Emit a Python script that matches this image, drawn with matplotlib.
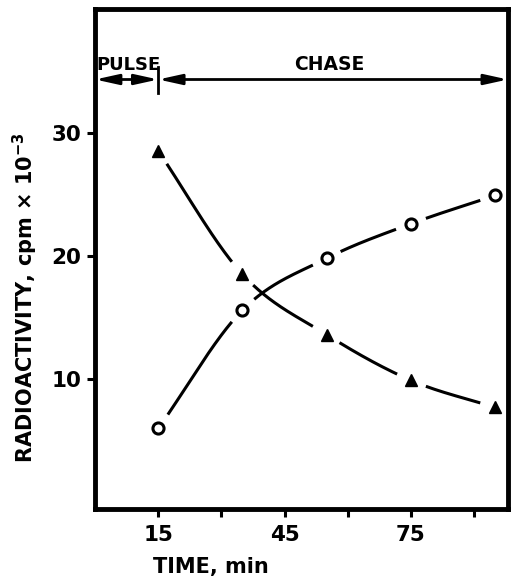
import numpy as np
import matplotlib
matplotlib.use("Agg")
import matplotlib.pyplot as plt
from matplotlib.patches import FancyArrowPatch

plt.rcParams['font.family'] = ['DejaVu Sans']
plt.rcParams['font.weight'] = 'bold'
plt.rcParams['mathtext.fontset'] = 'custom'
plt.rcParams['mathtext.rm'] = 'DejaVu Sans:bold'
plt.rcParams['mathtext.default'] = 'rm'

# data
time_min = [15, 35, 55, 75, 95]
triangles = [28.5, 18.5, 13.6, 9.9, 7.7]
circles = [6.0, 15.6, 19.8, 22.6, 24.9]

x_ticks = [15, 30, 45, 60, 75, 90]
x_ticklabels = ['15', '', '45', '', '75', '']
y_ticks = [10, 20, 30]

pulse_end = 15


def smooth(x, y, n=80):
    # catmull-rom curve through the points, for the hand drawn look
    x = np.asarray(x, float)
    y = np.asarray(y, float)
    px = np.concatenate([[2 * x[0] - x[1]], x, [2 * x[-1] - x[-2]]])
    py = np.concatenate([[2 * y[0] - y[1]], y, [2 * y[-1] - y[-2]]])
    xs, ys = [], []
    t = np.linspace(0, 1, n)
    for i in range(1, len(px) - 2):
        for p, out in ((px, xs), (py, ys)):
            p0, p1, p2, p3 = p[i - 1], p[i], p[i + 1], p[i + 2]
            out.append(0.5 * ((2 * p1) + (-p0 + p2) * t
                              + (2 * p0 - 5 * p1 + 4 * p2 - p3) * t ** 2
                              + (-p0 + 3 * p1 - 3 * p2 + p3) * t ** 3))
    return np.concatenate(xs), np.concatenate(ys)


fig = plt.figure(figsize=(5.14, 5.76), dpi=100)
ax = fig.add_axes([0.185, 0.117, 0.803, 0.867])
ax.set_xlim(0, 98)
ax.set_ylim(-0.5, 40)

# gap around every marker, in pixels
gap = 15
marks = ax.transData.transform(np.column_stack(
    [time_min + time_min, triangles + circles]))
for yy in (triangles, circles):
    sx, sy = smooth(time_min, yy)
    pts = ax.transData.transform(np.column_stack([sx, sy]))
    d = np.min(np.hypot(pts[:, None, 0] - marks[None, :, 0],
                        pts[:, None, 1] - marks[None, :, 1]), axis=1)
    sy = np.where(d < gap, np.nan, sy)
    ax.plot(sx, sy, color='black', lw=2.2, solid_capstyle='butt', zorder=2)

ax.plot(time_min, triangles, ls='none', marker='^', ms=9, color='black', zorder=4)
ax.plot(time_min, circles, ls='none', marker='o', ms=8, mfc='white',
        mec='black', mew=2.2, zorder=4)

ax.set_xticks(x_ticks)
ax.set_xticklabels(x_ticklabels)
ax.set_yticks(y_ticks)
ax.tick_params(axis='both', direction='out', length=6, width=2.2,
               labelsize=15.5, pad=4)
ax.tick_params(axis='x', pad=6)
for lab in ax.get_xticklabels() + ax.get_yticklabels():
    lab.set_fontweight('bold')
for sp in ax.spines.values():
    sp.set_linewidth(3.5)
    sp.set_zorder(6)

# pulse / chase arrows
ybar = 34.3
astyle = '<|-|>,head_length=1.0,head_width=0.22'
ax.add_patch(FancyArrowPatch((0, ybar), (pulse_end, ybar), arrowstyle=astyle,
                             mutation_scale=14, lw=2, color='black',
                             shrinkA=0, shrinkB=0, clip_on=False))
ax.add_patch(FancyArrowPatch((pulse_end, ybar), (98, ybar), arrowstyle=astyle,
                             mutation_scale=14, lw=2, color='black',
                             shrinkA=0, shrinkB=0, clip_on=False))
ax.plot([pulse_end, pulse_end], [33.2, 35.3], color='black', lw=2)
ax.text(8.0, 35.5, 'PULSE', ha='center', va='center', fontsize=13,
        fontweight='bold')
ax.text(55.5, 35.5, 'CHASE', ha='center', va='center', fontsize=13.5,
        fontweight='bold')

fig.text(0.05, 0.484, r'RADIOACTIVITY, cpm $\times$ 10$^{-3}$', rotation=90,
         ha='center', va='center', fontsize=15, fontweight='bold')
fig.text(0.41, 0.016, 'TIME, min', ha='center', va='center', fontsize=15,
         fontweight='bold')

fig.savefig('out.png', dpi=100)
